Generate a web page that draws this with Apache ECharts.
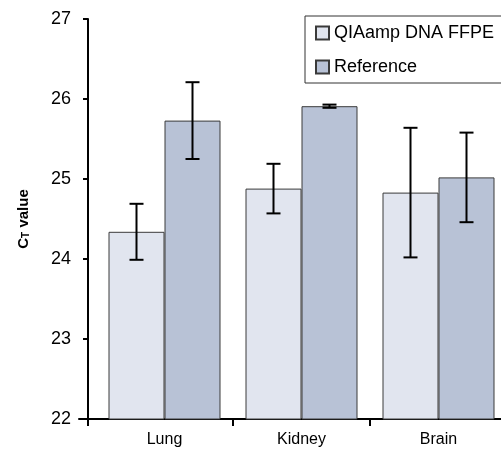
<!DOCTYPE html>
<html>
<head>
<meta charset="utf-8">
<script src="https://cdn.jsdelivr.net/npm/echarts@6/dist/echarts.min.js"></script>
<style>html,body{margin:0;padding:0;background:#fff}#c{width:501px;height:452px}</style>
</head>
<body>
<div id="c"></div>
<script>
var categories = ['Lung', 'Kidney', 'Brain'];
var qiaValues = [24.34, 24.88, 24.83];
var qiaErrors = [0.35, 0.31, 0.81];
var refValues = [25.73, 25.91, 25.02];
var refErrors = [0.48, 0.02, 0.56];
var yMin = 22, yMax = 27, yStep = 1;

var FONT = 'Liberation Sans';
var BAR_W = 56;

function errSeries(name, values, errors, side) {
  return {
    type: 'custom', name: name + ' err', xAxisIndex: 0, yAxisIndex: 0, z: 10,
    data: values.map(function (v, i) { return [i, v, errors[i]]; }),
    renderItem: function (params, api) {
      var i = api.value(0), v = api.value(1), e = api.value(2);
      var top = api.coord([i, v + e]);
      var bot = api.coord([i, v - e]);
      var x = top[0] + side * BAR_W / 2;
      var cap = 7;
      var st = { stroke: '#000', lineWidth: 2 };
      return { type: 'group', children: [
        { type: 'line', shape: { x1: x, y1: top[1], x2: x, y2: bot[1] }, style: st },
        { type: 'line', shape: { x1: x - cap, y1: top[1], x2: x + cap, y2: top[1] }, style: st },
        { type: 'line', shape: { x1: x - cap, y1: bot[1], x2: x + cap, y2: bot[1] }, style: st }
      ]};
    }
  };
}

var chart = echarts.init(document.getElementById('c'), null, { renderer: 'canvas' });
chart.setOption({
  animation: false,
  textStyle: { fontFamily: FONT },
  grid: [
    { left: 96, width: 411, top: 19, height: 400, outerBoundsMode: 'none', containLabel: false },
    { left: 79, width: 428, top: 19, height: 400, outerBoundsMode: 'none', containLabel: false },
    { left: 88, width: 419, top: 19, height: 400, outerBoundsMode: 'none', containLabel: false }
  ],
  legend: {
    data: ['QIAamp DNA FFPE', 'Reference'],
    orient: 'vertical', left: 305, top: 16,
    itemWidth: 13, itemHeight: 13, itemGap: 16, itemTextGap: 8,
    icon: 'rect',
    padding: [8, 30, 7, 10],
    borderColor: '#333', borderWidth: 1, backgroundColor: '#fff',
    textStyle: { fontFamily: FONT, fontSize: 18, color: '#000' }
  },
  xAxis: [
    { type: 'category', gridIndex: 0, data: categories,
      axisLine: { show: false },
      axisTick: { show: true, length: 7, interval: function (i) { return i > 0; }, lineStyle: { color: '#000', width: 2 } },
      axisLabel: { fontFamily: FONT, fontSize: 16, color: '#000', margin: 13 } },
    { type: 'value', gridIndex: 1, min: 0, max: 1, interval: 1,
      axisLine: { show: true, lineStyle: { color: '#000', width: 2 } },
      axisTick: { show: false }, axisLabel: { show: false }, splitLine: { show: false } },
    { type: 'value', gridIndex: 2, min: 0, max: 1, interval: 1,
      axisLine: { show: false },
      axisTick: { show: true, length: 7, lineStyle: { color: '#000', width: 2 } },
      axisLabel: { show: false }, splitLine: { show: false } }
  ],
  yAxis: [
    { type: 'value', gridIndex: 0, min: yMin, max: yMax, interval: yStep,
      axisLine: { show: false }, axisTick: { show: false }, axisLabel: { show: false }, splitLine: { show: false } },
    { type: 'value', gridIndex: 1, min: yMin, max: yMax, interval: yStep, show: false },
    { type: 'value', gridIndex: 2, min: yMin, max: yMax, interval: yStep,
      axisLine: { show: true, lineStyle: { color: '#000', width: 2 } },
      axisTick: { show: true, length: 5, lineStyle: { color: '#000', width: 2 } },
      axisLabel: { fontFamily: FONT, fontSize: 18, color: '#000', margin: 17 },
      splitLine: { show: false },
      name: '{c|C}{t|T}{c| value}', nameLocation: 'middle', nameGap: 57, nameRotate: 90,
      nameTextStyle: { fontFamily: FONT, fontSize: 15, fontWeight: 'bold', color: '#000',
        rich: {
          c: { fontFamily: FONT, fontSize: 15, fontWeight: 'bold', color: '#000' },
          t: { fontFamily: FONT, fontSize: 10, fontWeight: 'bold', color: '#000', verticalAlign: 'bottom', padding: [5, 0, 0, 0] }
        } } }
  ],
  series: [
    { type: 'bar', name: 'QIAamp DNA FFPE', xAxisIndex: 0, yAxisIndex: 0, data: qiaValues,
      barWidth: BAR_W, barGap: '0%',
      itemStyle: { color: '#e1e5ef', borderColor: '#3a3a3a', borderWidth: 1 } },
    { type: 'bar', name: 'Reference', xAxisIndex: 0, yAxisIndex: 0, data: refValues,
      barWidth: BAR_W, barGap: '0%',
      itemStyle: { color: '#b8c2d6', borderColor: '#3a3a3a', borderWidth: 1 } },
    errSeries('QIAamp DNA FFPE', qiaValues, qiaErrors, -1),
    errSeries('Reference', refValues, refErrors, 1)
  ]
});
</script>
</body>
</html>
